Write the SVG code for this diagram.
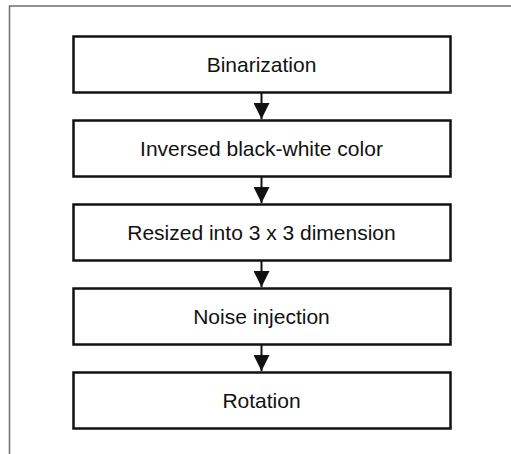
<svg xmlns="http://www.w3.org/2000/svg" width="511" height="454" viewBox="0 0 511 454">
<defs>
<style>
.box{fill:#fff;stroke:#111;stroke-width:2.5}
.lbl{font-family:"Liberation Sans",Arial,sans-serif;font-size:21px;fill:#111;text-anchor:middle}
.con{stroke:#111;stroke-width:2;fill:none}
</style>
<marker id="ah" markerWidth="16" markerHeight="16" viewBox="0 0 16 16" refX="16" refY="8" orient="auto" markerUnits="userSpaceOnUse">
<path d="M0,0 L16,8 L0,16 Z" fill="#111"/>
</marker>
</defs>
<rect width="511" height="454" fill="#fff"/>
<path d="M9.5,454 V6 H511" fill="none" stroke="#6e6e6e" stroke-width="1.5"/>
<g id="connectors">
<line class="con" x1="261.5" y1="92" x2="261.5" y2="119" marker-end="url(#ah)"/>
<line class="con" x1="261.5" y1="176" x2="261.5" y2="203" marker-end="url(#ah)"/>
<line class="con" x1="261.5" y1="260" x2="261.5" y2="287" marker-end="url(#ah)"/>
<line class="con" x1="261.5" y1="344" x2="261.5" y2="371" marker-end="url(#ah)"/>
</g>
<g id="n1"><rect class="box" x="73.5" y="36.5" width="377" height="56"/><text class="lbl" x="261.5" y="72">Binarization</text></g>
<g id="n2"><rect class="box" x="73.5" y="120.5" width="377" height="56"/><text class="lbl" x="261.5" y="156">Inversed black-white color</text></g>
<g id="n3"><rect class="box" x="73.5" y="204.5" width="377" height="56"/><text class="lbl" x="261.5" y="240">Resized into 3 x 3 dimension</text></g>
<g id="n4"><rect class="box" x="73.5" y="288.5" width="377" height="56"/><text class="lbl" x="261.5" y="324">Noise injection</text></g>
<g id="n5"><rect class="box" x="73.5" y="372.5" width="377" height="56"/><text class="lbl" x="261.5" y="408">Rotation</text></g>
</svg>
